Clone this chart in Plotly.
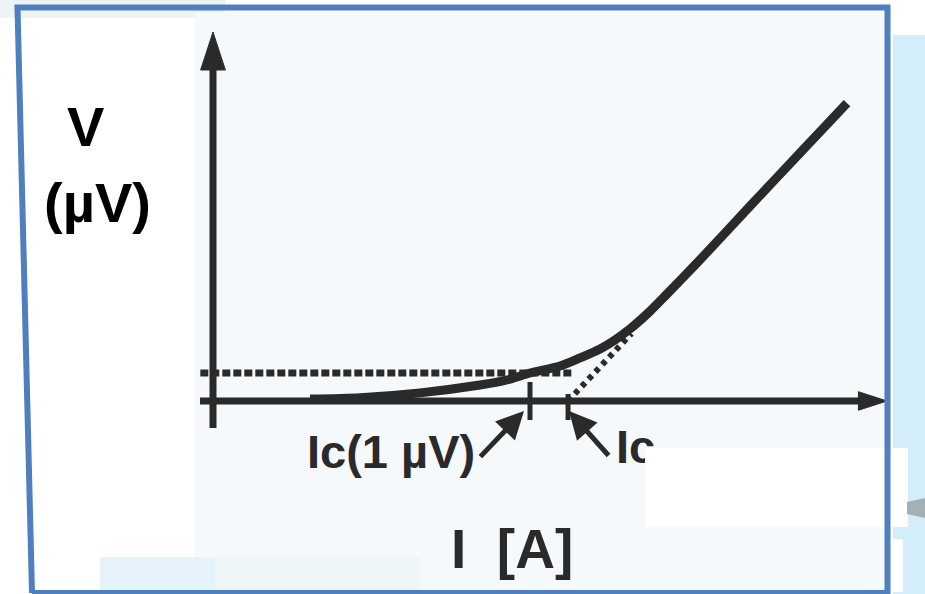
import plotly.graph_objects as go

# ---- figure size -----------------------------------------------------------
W, H = 925, 594

# ---- V-I characteristic of a superconducting sample -------------------------
# current in arbitrary units, voltage in µV
I_curve = [3.06, 4.64, 6.53, 8.42, 9.27, 10.0, 10.95, 11.58, 12.21, 12.68,
           13.15, 13.79, 14.26, 15.36, 16.94, 18.52, 20.0]
V_curve = [0.07, 0.12, 0.29, 0.57, 0.75, 1.0, 1.25, 1.54, 1.86, 2.18,
           2.57, 3.21, 3.75, 5.04, 6.96, 8.86, 10.64]

# 1 µV electric-field criterion line
V_crit = 1.0
I_crit_line = [-0.4, 11.36]

# critical currents: by 1 µV criterion and by linear extrapolation
Ic_1uV = 10.0
Ic_ext = 11.2

# extrapolated tangent of the linear (flux-flow) part
I_tan = [11.2, 13.2]
V_tan = [0.0, 2.41]

# tick marks on the current axis at the two critical currents
tick_I = [Ic_1uV, Ic_ext]
tick_V_low = [-0.68, -0.68]
tick_V_high = [0.68, 0.25]

# pointer arrows (tip, tail) for the two labels
arrow_tip_I = [9.81, 11.23]
arrow_tip_V = [-0.36, -0.36]
arrow_tail_I = [8.39, 12.52]
arrow_tail_V = [-2.04, -2.0]

# axis extents
I_axis = [-0.41, 21.26]
V_axis = [-0.96, 13.18]

# label texts
ylabel_top = "V"
ylabel_unit = "(µV)"
xlabel = "I  [A]"
lbl_ic1 = "Ic(1 µV)"
lbl_ic = "Ic"

# ---- scale: pixels per unit, origin in pixels -------------------------------
PX_I, PX_V = 31.7, 28.0
OX, OY = 213.0, 401.0
x_range = [-OX / PX_I, (W - OX) / PX_I]
y_range = [-(H - OY) / PX_V, OY / PX_V]

INK = "#2a2a2a"
BLUE = "#4f7fbf"


def px(x):
    return x / W


def py(y):
    return 1 - y / H


fig = go.Figure()

# axes (line stops at the base of the arrow head)
head_v = 38 / PX_V
head_i = 27 / PX_I
fig.add_trace(go.Scatter(x=[0, 0], y=[V_axis[0], V_axis[1] - head_v * 0.8],
                         mode="lines", line=dict(color=INK, width=7),
                         hoverinfo="skip"))
fig.add_trace(go.Scatter(x=[I_axis[0], I_axis[1] - head_i * 0.8], y=[0, 0],
                         mode="lines", line=dict(color=INK, width=7),
                         hoverinfo="skip"))
fig.add_trace(go.Scatter(x=[0], y=[V_axis[1]], mode="markers",
                         marker=dict(symbol="arrow", size=40, angle=0,
                                     color=INK, line=dict(color=INK, width=1)),
                         hoverinfo="skip"))
fig.add_trace(go.Scatter(x=[I_axis[1]], y=[0], mode="markers",
                         marker=dict(symbol="arrow", size=30, angle=90,
                                     color=INK, line=dict(color=INK, width=1)),
                         hoverinfo="skip"))

# criterion line
fig.add_trace(go.Scatter(x=I_crit_line, y=[V_crit, V_crit], mode="lines",
                         line=dict(color=INK, width=7, dash="8px,3px"),
                         hoverinfo="skip"))
# tangent extrapolation
fig.add_trace(go.Scatter(x=I_tan, y=V_tan, mode="lines",
                         line=dict(color=INK, width=6, dash="5px,5px"),
                         hoverinfo="skip"))
# tick marks
for ti, lo, hi in zip(tick_I, tick_V_low, tick_V_high):
    fig.add_trace(go.Scatter(x=[ti, ti], y=[lo, hi], mode="lines",
                             line=dict(color=INK, width=5), hoverinfo="skip"))

# V-I curve
fig.add_trace(go.Scatter(x=I_curve, y=V_curve, mode="lines",
                         line=dict(color=INK, width=9, shape="spline",
                                   smoothing=0.8),
                         hoverinfo="skip"))

# "Ic" label (partly hidden by the panel above it)
fig.add_trace(go.Scatter(x=[(616 - OX) / PX_I], y=[(OY - 451.5) / PX_V],
                         mode="text", text=[lbl_ic], textposition="middle right",
                         textfont=dict(family="Liberation Sans", size=47,
                                       color=INK, weight="bold"),
                         hoverinfo="skip"))

shapes = []
# backgrounds
shapes.append(dict(type="rect", xref="paper", yref="paper", layer="below",
                   x0=px(0), x1=px(225), y0=py(18), y1=py(0),
                   fillcolor="#eef3f7", line=dict(width=0)))
shapes.append(dict(type="rect", xref="paper", yref="paper", layer="below",
                   x0=px(195), x1=px(886), y0=py(593), y1=py(12),
                   fillcolor="#f6f9fb", line=dict(width=0)))
shapes.append(dict(type="rect", xref="paper", yref="paper", layer="below",
                   x0=px(100), x1=px(215), y0=py(593), y1=py(557),
                   fillcolor="#e6f3fa", line=dict(width=0)))
shapes.append(dict(type="rect", xref="paper", yref="paper", layer="below",
                   x0=px(215), x1=px(420), y0=py(593), y1=py(557),
                   fillcolor="#eff6fa", line=dict(width=0)))
# white patch over the right part of the "Ic" label
shapes.append(dict(type="rect", xref="paper", yref="paper", layer="above",
                   x0=px(645), x1=px(886), y0=py(527), y1=py(448),
                   fillcolor="#ffffff", line=dict(width=0)))
# right light-blue panel
shapes.append(dict(type="rect", xref="paper", yref="paper", layer="above",
                   x0=px(893), x1=px(925), y0=py(594), y1=py(35),
                   fillcolor="#d3eefa", line=dict(width=0)))
shapes.append(dict(type="rect", xref="paper", yref="paper", layer="above",
                   x0=px(893), x1=px(908), y0=py(527), y1=py(448),
                   fillcolor="#ffffff", line=dict(width=0)))
shapes.append(dict(type="rect", xref="paper", yref="paper", layer="above",
                   x0=px(893), x1=px(903), y0=py(592), y1=py(539),
                   fillcolor="#ffffff", line=dict(width=0)))
shapes.append(dict(type="path", xref="paper", yref="paper", layer="above",
                   path=(f"M{px(907)},{py(502)} L{px(925)},{py(498)} "
                         f"L{px(925)},{py(518)} L{px(907)},{py(514)} Z"),
                   fillcolor="#a3b0b5", line=dict(width=0)))
# blue frame
shapes.append(dict(type="path", xref="paper", yref="paper", layer="above",
                   path=(f"M{px(32)},{py(593)} L{px(17.5)},{py(7.5)} "
                         f"L{px(887.5)},{py(7.5)} L{px(887.5)},{py(594)} "
                         f"M{px(32)},{py(593)} L{px(887.5)},{py(593)}"),
                   line=dict(color=BLUE, width=6)))

annotations = [
    dict(xref="paper", yref="paper", x=px(85), y=py(126), text=ylabel_top,
         showarrow=False, xanchor="center", yanchor="middle",
         font=dict(family="Liberation Sans", size=56, color="#000000",
                   weight="bold")),
    dict(xref="paper", yref="paper", x=px(97), y=py(203), text=ylabel_unit,
         showarrow=False, xanchor="center", yanchor="middle",
         font=dict(family="Liberation Sans", size=56, color="#000000",
                   weight="bold")),
    dict(xref="paper", yref="paper", x=px(512), y=py(549), text=xlabel,
         showarrow=False, xanchor="center", yanchor="middle",
         font=dict(family="Liberation Sans", size=55, color=INK,
                   weight="bold")),
    dict(xref="x", yref="y", x=(477 - OX) / PX_I, y=(OY - 451.5) / PX_V,
         text=lbl_ic1, showarrow=False, xanchor="right", yanchor="middle",
         font=dict(family="Liberation Sans", size=47, color=INK,
                   weight="bold")),
]
for tx, ty, ax, ay in zip(arrow_tip_I, arrow_tip_V, arrow_tail_I, arrow_tail_V):
    annotations.append(dict(xref="x", yref="y", axref="x", ayref="y",
                            x=tx, y=ty, ax=ax, ay=ay, text="",
                            showarrow=True, arrowhead=2, arrowsize=1.1,
                            arrowwidth=5, arrowcolor=INK, standoff=0))

fig.update_layout(
    width=W, height=H,
    margin=dict(l=0, r=0, t=0, b=0),
    paper_bgcolor="#ffffff", plot_bgcolor="rgba(0,0,0,0)",
    showlegend=False,
    xaxis=dict(range=x_range, visible=False, fixedrange=True),
    yaxis=dict(range=y_range, visible=False, fixedrange=True),
    shapes=shapes, annotations=annotations,
)

fig.write_html("out.html", config={"displayModeBar": False})
